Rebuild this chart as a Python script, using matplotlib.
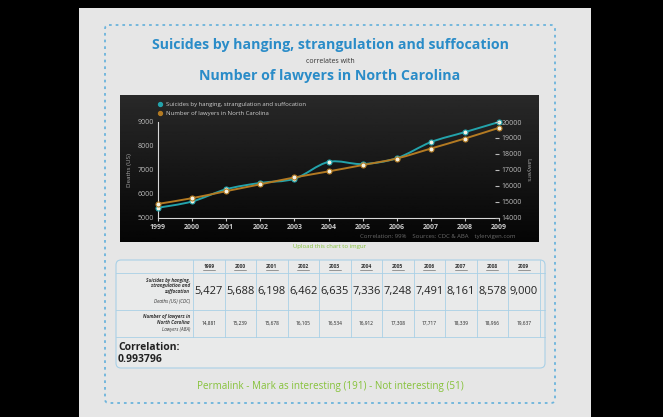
import matplotlib.pyplot as plt
import numpy as np
from matplotlib.path import Path
from matplotlib.patches import PathPatch, Rectangle, FancyBboxPatch

# Data
years = [1999, 2000, 2001, 2002, 2003, 2004, 2005, 2006, 2007, 2008, 2009]
suicides = [5427, 5688, 6198, 6462, 6635, 7336, 7248, 7491, 8161, 8578, 9000]
lawyers = [14881, 15239, 15678, 16105, 16534, 16912, 17308, 17717, 18339, 18966, 19637]
correlation = 0.993796

title_top = 'Suicides by hanging, strangulation and suffocation'
title_bottom = 'Number of lawyers in North Carolina'
row_labels = ['Suicides by hanging,\nstrangulation and\nsuffocation', 'Number of lawyers in\nNorth Carolina']
row_units = ['Deaths (US) (CDC)', 'Lawyers (ABA)']

# Style
W, H = 663, 417
blue = '#2a8cc8'
green = '#86c23a'
teal = '#23a3ab'
orange = '#b37a22'
grid_blue = '#a9d0e6'
plt.rcParams['font.family'] = ['Open Sans', 'DejaVu Sans']


def fx(x):
    return x / W


def fy(y):
    return 1 - y / H


def spline_path(xs, ys):
    # Catmull-Rom curve through the points, as cubic bezier segments
    pts = np.column_stack([xs, ys]).astype(float)
    verts = [pts[0]]
    codes = [Path.MOVETO]
    n = len(pts)
    for i in range(n - 1):
        p0 = pts[max(i - 1, 0)]
        p1 = pts[i]
        p2 = pts[i + 1]
        p3 = pts[min(i + 2, n - 1)]
        c1 = p1 + (p2 - p0) / 6
        c2 = p2 - (p3 - p1) / 6
        verts += [c1, c2, p2]
        codes += [Path.CURVE4] * 3
    return Path(verts, codes)


fig = plt.figure(figsize=(W / 100, H / 100), dpi=100)
fig.patch.set_facecolor('black')

# Background canvas in pixel coordinates
bg = fig.add_axes([0, 0, 1, 1])
bg.set_xlim(0, W)
bg.set_ylim(H, 0)
bg.axis('off')
bg.add_patch(Rectangle((79, 8), 512, H - 8, facecolor='#e6e6e6', edgecolor='none'))
bg.add_patch(FancyBboxPatch((105, 25), 450, 378, boxstyle='round,pad=0,rounding_size=4',
                            facecolor='none', edgecolor='#6cb4dc', lw=1.3, linestyle=(0, (1.5, 2.2))))

# Titles
bg.text(330, 45, title_top, color=blue, fontsize=10.15, fontweight='bold', ha='center', va='center')
bg.text(330, 61, 'correlates with', color='#333333', fontsize=5, ha='center', va='center')
bg.text(330, 76, title_bottom, color=blue, fontsize=10.15, fontweight='bold', ha='center', va='center')

# Chart box with a dark gradient
grad = np.linspace(0.16, 0.02, 100).reshape(-1, 1)
bg.imshow(grad, extent=(120, 539, 242, 95), cmap='gray', vmin=0, vmax=1, aspect='auto', zorder=1)
bg.set_xlim(0, W)
bg.set_ylim(H, 0)

# Legend inside the chart box
bg.plot(160, 104, 'o', ms=2.8, color=teal, zorder=3)
bg.plot(160, 113, 'o', ms=2.8, color=orange, zorder=3)
bg.text(166, 104, title_top, color='#cfcfcf', fontsize=4.3, va='center', zorder=3)
bg.text(166, 113, title_bottom, color='#cfcfcf', fontsize=4.3, va='center', zorder=3)
bg.text(515, 236, 'Correlation: 99%    Sources: CDC & ABA    tylervigen.com', color='#6a6a6a',
        fontsize=4.3, ha='right', va='center', zorder=3)
bg.text(330, 246, 'Upload this chart to imgur', color=green, fontsize=4.3, ha='center', va='center')

# Plot axes
ax = fig.add_axes([fx(158), fy(218), fx(499 - 158), (218 - 122) / H])
ax.patch.set_alpha(0)
ax2 = ax.twinx()
ax.set_xlim(years[0], years[-1])
ax.set_ylim(5000, 9000)
ax2.set_ylim(14000, 20000)

ax.add_patch(PathPatch(spline_path(years, suicides), facecolor='none', edgecolor=teal, lw=1.4, zorder=3))
ax2.add_patch(PathPatch(spline_path(years, lawyers), facecolor='none', edgecolor=orange, lw=1.4, zorder=3))
ax.plot(years, suicides, 'o', ms=3.6, mfc='#f4f2e4', mec=teal, mew=0.8, zorder=4, clip_on=False)
ax2.plot(years, lawyers, 'o', ms=3.6, mfc='#f4f2e4', mec=orange, mew=0.8, zorder=4, clip_on=False)

ax.set_xticks(years)
ax.set_xticklabels([str(y) for y in years], fontsize=5, color='#e0e0e0', fontweight='bold')
ax.set_yticks(range(5000, 9001, 1000))
ax.tick_params(axis='y', labelsize=5, colors='#bbbbbb', length=0, pad=3)
ax.tick_params(axis='x', length=2, colors='#cccccc', pad=2)
ax.set_ylabel('Deaths (US)', color='#aaaaaa', fontsize=4.5, labelpad=4)
ax2.set_yticks(range(14000, 20001, 1000))
ax2.tick_params(axis='y', labelsize=5, colors='#bbbbbb', length=3, direction='in', pad=2)
ax2.set_ylabel('Lawyers', color='#aaaaaa', fontsize=4.5, rotation=270, labelpad=6)
for a in (ax, ax2):
    for s in ('top', 'right'):
        a.spines[s].set_visible(False)
    a.spines['left'].set_color('#d8d8d8')
    a.spines['bottom'].set_color('#d8d8d8')
ax2.spines['left'].set_visible(False)
ax2.spines['bottom'].set_visible(False)

# Data table
tx0, tx1, ty0, ty1 = 116, 545, 260, 368
col0 = 193
col_w = 31.5
row_y = [260, 273, 310, 337]
bg.add_patch(FancyBboxPatch((tx0, ty0), tx1 - tx0, ty1 - ty0, boxstyle='round,pad=0,rounding_size=5',
                            facecolor='#e9eaea', edgecolor=grid_blue, lw=0.8))
for y in row_y[1:]:
    bg.plot([tx0, tx1], [y, y], color=grid_blue, lw=0.6)
for i in range(len(years) + 1):
    x = col0 + i * col_w
    if x < tx1:
        bg.plot([x, x], [row_y[0], row_y[-1]], color=grid_blue, lw=0.6)

for i, yr in enumerate(years):
    cx = col0 + (i + 0.5) * col_w
    bg.text(cx, 267, str(yr), fontsize=3.6, fontweight='bold', color='#333333', ha='center', va='center')
    bg.plot([cx - 6, cx + 6], [270, 270], color='#555555', lw=0.4)
    bg.text(cx, 291.5, f'{suicides[i]:,}', fontsize=8, color='#222222', ha='center', va='center')
    bg.text(cx, 323.5, f'{lawyers[i]:,}', fontsize=3.4, color='#222222', ha='center', va='center')

bg.text(190, 286, row_labels[0], fontsize=3.3, fontweight='bold', color='#333333', ha='right', va='center',
        linespacing=1.1, style='italic')
bg.text(190, 302, row_units[0], fontsize=3.3, color='#333333', ha='right', va='center', style='italic')
bg.text(190, 319.5, row_labels[1], fontsize=3.3, fontweight='bold', color='#333333', ha='right', va='center',
        linespacing=1.1, style='italic')
bg.text(190, 329, row_units[1], fontsize=3.3, color='#333333', ha='right', va='center', style='italic')

bg.text(118, 347, 'Correlation:', fontsize=7.5, fontweight='bold', color='#222222', va='center')
bg.text(118, 360, f'{correlation:.6f}', fontsize=7.5, fontweight='bold', color='#222222', va='center')

bg.text(330, 386, 'Permalink - Mark as interesting (191) - Not interesting (51)', fontsize=7.1,
        color=green, ha='center', va='center')

plt.savefig('out.png', dpi=100, facecolor=fig.get_facecolor())
